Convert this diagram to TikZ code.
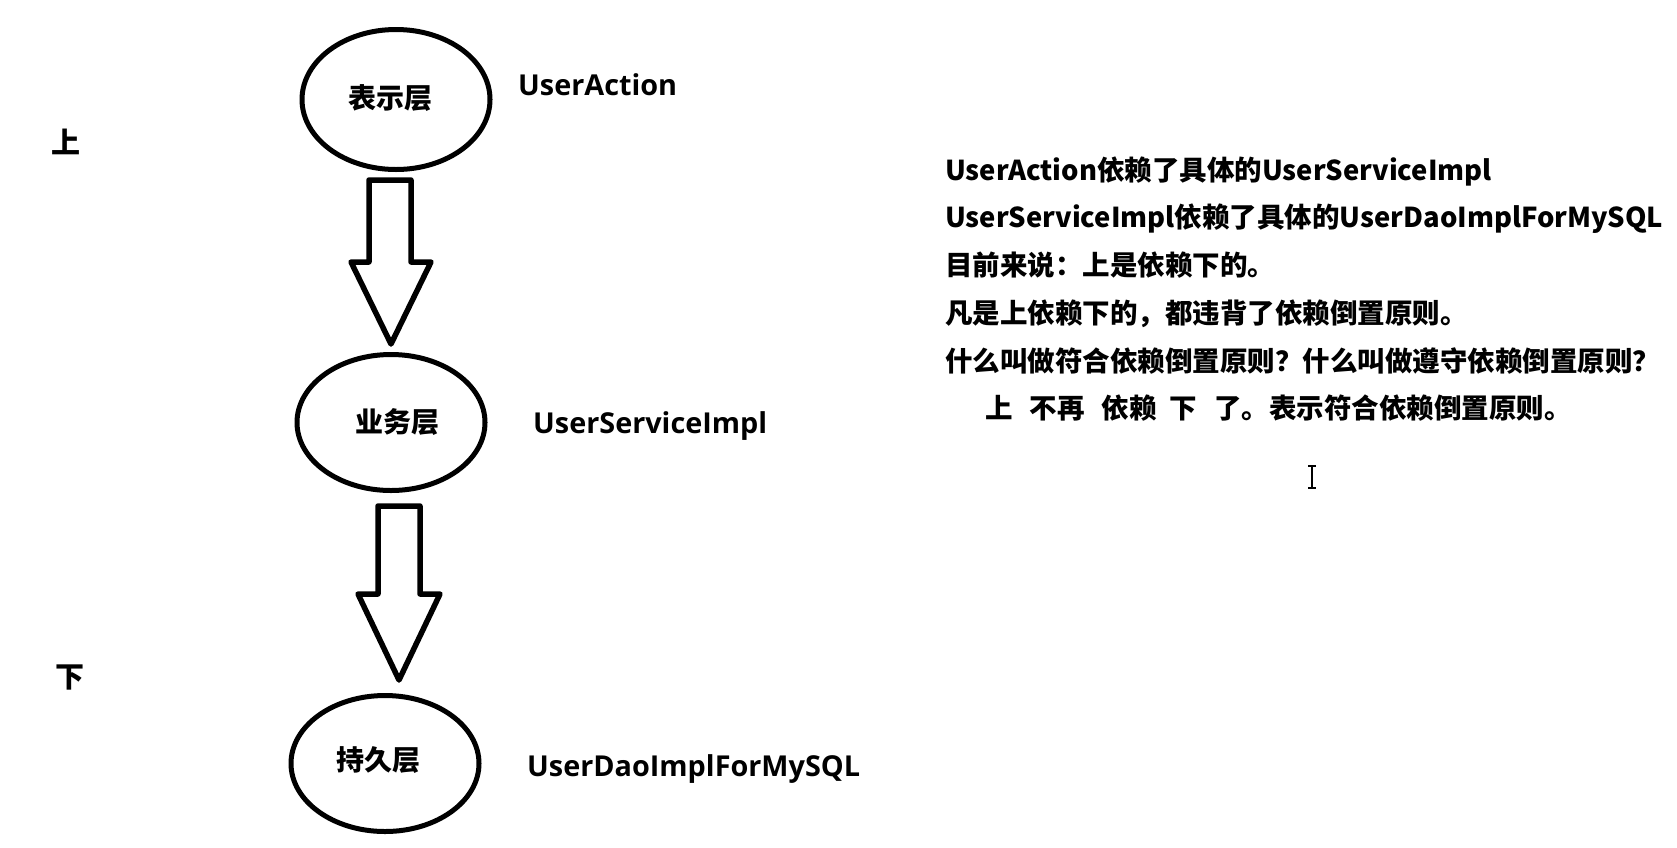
\documentclass[tikz,border=0pt]{standalone}
\usepackage{fontspec}
\setmainfont{Open Sans}
\newfontfamily\cjk{Noto Sans CJK SC}
\usetikzlibrary{shapes.geometric,calc}
\newcommand{\rtl}[1]{{\fontsize{27.4}{32}\selectfont\bfseries #1}}
\tikzset{
  layer/.style={ellipse,draw=black,line width=5pt,inner sep=0pt,minimum width=188pt},
  lbl/.style={font=\fontsize{28.8}{33}\selectfont\bfseries,inner sep=0pt,anchor=base west},
  ctxt/.style={inner sep=0pt,font=\fontsize{28}{32}\selectfont\bfseries\cjk},
  rtxt/.style={inner sep=0pt,anchor=base west,font=\fontsize{27.5}{32}\selectfont\bfseries\cjk},
  blockarrow/.style={draw=black,line width=5.5pt,line join=round,fill=white}
}
\begin{document}
\begin{tikzpicture}[x=1pt,y=-1pt]
\useasboundingbox[fill=white] (0,0) rectangle (1677,847);
% layers
\node[layer,minimum height=140pt] (e1) at (396,99.5) {};
\node[layer,minimum height=136pt] (e2) at (391,422.5) {};
\node[layer,minimum height=136pt] (e3) at (385,763.5) {};
\node[ctxt] (t1) at (390,98) {表示层};
\node[ctxt] (t2) at (397,422) {业务层};
\node[ctxt] (t3) at (378,760) {持久层};
% side words
\node[ctxt,font=\fontsize{29}{32}\selectfont\bfseries\cjk] (up) at (66,142) {上};
\node[ctxt,font=\fontsize{29}{32}\selectfont\bfseries\cjk] (down) at (70,677) {下};
% class labels
\node[lbl] (l1) at (518,95) {UserAction};
\node[lbl] (l2) at (533,433) {UserServiceImpl};
\node[lbl] (l3) at (527,776) {UserDaoImplForMySQL};
% block arrows
\coordinate (a1s) at (390,180);
\coordinate (a1t) at (391,344);
\draw[blockarrow] ($(a1s)+(-21,0)$) -- ($(a1s)+(21,0)$) -- ($(a1t)+(20,-82)$) -- ($(a1t)+(40,-82)$)
  -- (a1t) -- ($(a1t)+(-40,-82)$) -- ($(a1t)+(-22,-82)$) -- cycle;
\coordinate (a2s) at (399,506);
\coordinate (a2t) at (399,680);
\draw[blockarrow] ($(a2s)+(-21,0)$) -- ($(a2s)+(21,0)$) -- ($(a2t)+(21,-86)$) -- ($(a2t)+(41,-86)$)
  -- (a2t) -- ($(a2t)+(-41,-86)$) -- ($(a2t)+(-21,-86)$) -- cycle;
% explanation text
\node[rtxt] (r1) at (945,180) {\rtl{UserAction}依赖了具体的\rtl{UserServiceImpl}};
\node[rtxt] (r2) at (945,227) {\rtl{UserServiceImpl}依赖了具体的\rtl{UserDaoImplForMySQL}};
\node[rtxt] (r3) at (945,275) {目前来说：上是依赖下的。};
\node[rtxt] (r4) at (945,323) {凡是上依赖下的，都违背了依赖倒置原则。};
\node[rtxt] (r5) at (945,371) {什么叫做符合依赖倒置原则？什么叫做遵守依赖倒置原则？};
\node[rtxt] (r6) at (985,418) {上\hspace{0.62em}不再\hspace{0.62em}依赖\hspace{0.47em}下\hspace{0.62em}了。表示符合依赖倒置原则。};
% text cursor
\coordinate (cur) at (1312,477);
\draw[line width=1.5pt] ($(cur)+(0,-10)$) -- ($(cur)+(0,10)$);
\draw[line width=1.2pt] ($(cur)+(-4,-11)$) -- ($(cur)+(4,-11)$);
\draw[line width=1.2pt] ($(cur)+(-4,11)$) -- ($(cur)+(4,11)$);
\end{tikzpicture}
\end{document}
